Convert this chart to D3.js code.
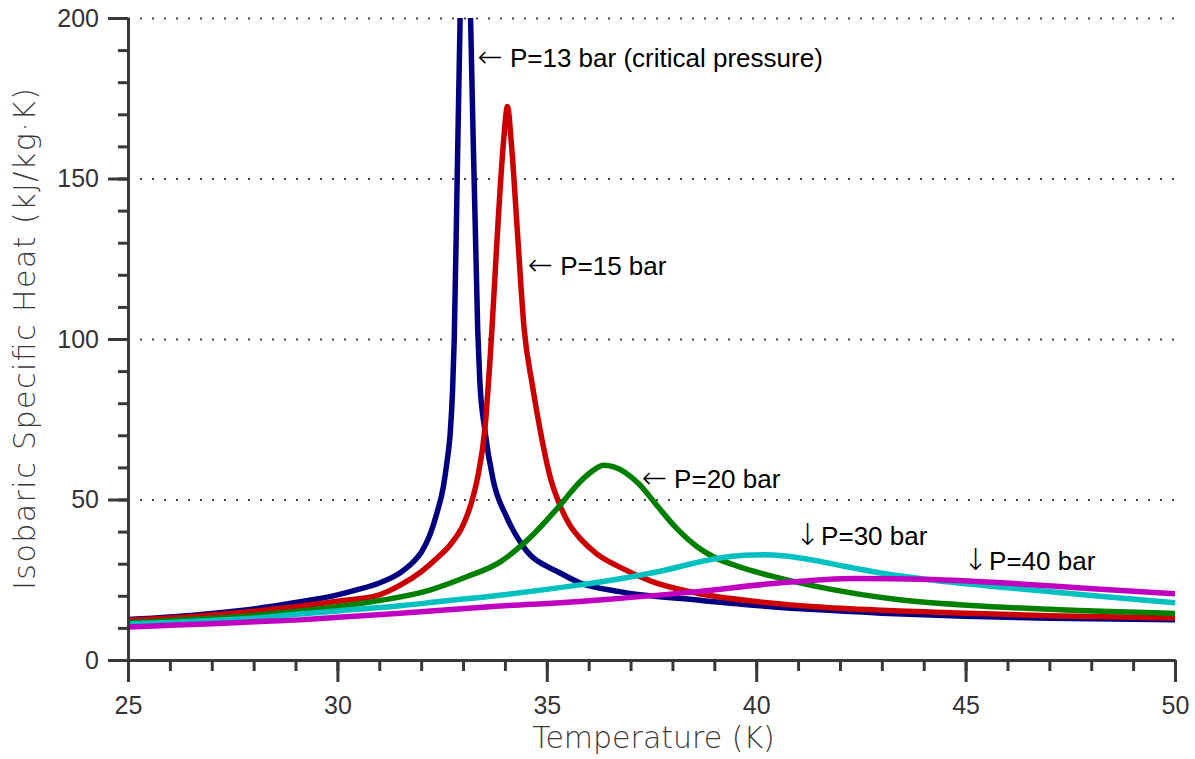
<!DOCTYPE html>
<html>
<head>
<meta charset="utf-8">
<script src="https://cdn.jsdelivr.net/npm/d3@7"></script>
<style>
  body { margin: 0; background: #fff; }
</style>
</head>
<body>
<script>
// temperatures (K) and isobaric specific heat (kJ/kg·K)
var temps13 = [25, 26, 27, 28, 29, 30, 30.5, 31, 31.5, 31.8, 32, 32.21, 32.37, 32.53, 32.62, 32.69, 32.75, 32.79, 32.86, 32.93, 33.05, 33.18, 33.35, 33.4, 33.52, 33.72, 34.04, 34.44, 35.32, 35.8, 36.73, 38.59, 40, 41.4, 43, 45, 47, 50];
var cp13    = [12.6, 13.4, 14.5, 15.9, 17.9, 20.3, 22, 24, 27.2, 30.4, 33.5, 39, 45.5, 54, 62, 70, 84, 100, 150, 200, 270, 200, 103, 87, 71.7, 56, 44.6, 35.3, 27.1, 24, 21.3, 18.7, 17, 15.7, 14.6, 13.6, 13, 12.5];

var temps15 = [25, 26, 27, 28, 29, 30, 31, 31.5, 32, 32.4, 32.7, 33, 33.2, 33.35, 33.52, 33.69, 33.83, 33.97, 34.06, 34.16, 34.3, 34.46, 34.65, 34.84, 35.08, 35.32, 35.55, 35.8, 36.2, 36.73, 37.5, 38.59, 40, 41.4, 43, 45, 47, 50];
var cp15    = [12.4, 13.1, 14, 15.2, 16.6, 18.3, 20.3, 23.3, 27.5, 32, 36, 42, 49, 57, 71.7, 103, 135, 162, 172.4, 160, 133, 103, 86, 71.7, 57, 48, 42, 37.8, 33, 29, 24.5, 20.8, 18.2, 16.6, 15.5, 14.6, 13.8, 13.1];

var temps20 = [25, 26, 27, 28, 29, 30, 31, 32.21, 33.1, 33.88, 34.36, 34.67, 35, 35.32, 35.48, 35.8, 36.1, 36.35, 36.6, 37.19, 37.65, 38.1, 38.59, 39, 39.53, 40.47, 41.4, 43.27, 45.13, 47, 50];
var cp20    = [11.6, 12.3, 13, 13.9, 15.1, 16.6, 18.5, 21.8, 26, 30.5, 35.3, 39, 43.6, 48.3, 50.8, 55.6, 59, 60.7, 60.2, 55, 47.8, 41, 35.3, 32, 29.3, 25.8, 23, 19, 17, 15.8, 14.5];

var temps30 = [25, 26, 27, 28, 29.1, 30, 31.5, 32.5, 33.88, 35, 35.79, 36.27, 37.65, 39.06, 39.7, 40.2, 40.7, 41.4, 42.1, 42.8, 44.2, 46.07, 47.94, 50];
var cp30    = [11.2, 11.7, 12.3, 13, 14.3, 15.3, 16.9, 18.3, 20.2, 22, 23.4, 24.3, 27.5, 31.6, 32.6, 32.8, 32.4, 31, 29.2, 27.5, 24.9, 22.4, 20.2, 17.8];

var temps40 = [25, 26, 27, 28, 29.1, 30, 31.5, 33.88, 35.79, 36.27, 38.59, 40.47, 42.34, 44.2, 46.07, 47.94, 50];
var cp40    = [10.3, 10.8, 11.3, 11.9, 12.5, 13.3, 14.6, 16.8, 18.2, 18.7, 21.3, 23.9, 25.4, 25.1, 23.9, 22.3, 20.6];

var xTicks = [25, 30, 35, 40, 45, 50];
var yTicks = [0, 50, 100, 150, 200];
var gridValues = [50, 100, 150, 200];

// curve labels: arrow, text, and the data point where the text starts
var labelArrow = ["\u2190", "\u2190", "\u2190", "\u2193", "\u2193"];
var labelText  = ["P=13 bar (critical pressure)", "P=15 bar", "P=20 bar", "P=30 bar", "P=40 bar"];
var labelT     = [34.12, 35.32, 38.04, 41.55, 45.56];
var labelCp    = [184.7, 119.9, 53.6, 35.8, 28];

var w = 1195;
var h = 759;
var plotL = 128, plotR = 1175, plotT = 18, plotB = 660;
var axisColor = "#383838";

var svg = d3.select("body")
            .append("svg")
            .attr("width", w)
            .attr("height", h);

var x = d3.scaleLinear().domain([25, 50]).range([plotL, plotR]);
var y = d3.scaleLinear().domain([0, 200]).range([plotB, plotT]);

// dotted grid
var grid = svg.append("g")
   .attr("transform", "translate(" + plotL + ",0)")
   .call(d3.axisLeft(y).tickValues(gridValues).tickSize(-(plotR - plotL)).tickFormat(""));
grid.select(".domain").remove();
grid.selectAll("line")
   .attr("stroke", "#444")
   .attr("stroke-width", 2)
   .attr("stroke-dasharray", "2,10");

// curves, clipped to the plot box
svg.append("clipPath")
   .attr("id", "plot")
   .append("rect")
   .attr("x", plotL)
   .attr("y", plotT)
   .attr("width", plotR - plotL)
   .attr("height", plotB - plotT);

var series = [
  { t: temps13, c: cp13, color: "#000080" },
  { t: temps15, c: cp15, color: "#cc0000" },
  { t: temps20, c: cp20, color: "#008000" },
  { t: temps30, c: cp30, color: "#00c0c0" },
  { t: temps40, c: cp40, color: "#c000c0" }
];

var line = d3.line()
   .x(function(d){ return x(d[0]); })
   .y(function(d){ return y(d[1]); })
   .curve(d3.curveMonotoneX);

svg.append("g")
   .attr("clip-path", "url(#plot)")
   .selectAll("path")
   .data(series)
   .enter()
   .append("path")
   .attr("d", function(d){ return line(d3.zip(d.t, d.c)); })
   .attr("fill", "none")
   .attr("stroke", function(d){ return d.color; })
   .attr("stroke-width", 5.5)
   .attr("stroke-linejoin", "round");

// axes: minor ticks first, then major ticks with labels
function styleAxis(g){
   g.selectAll("line, path").attr("stroke", axisColor).attr("stroke-width", 3);
   g.selectAll("text")
    .attr("fill", "#333")
    .attr("font-family", "'Liberation Sans', Arial, sans-serif")
    .attr("font-size", "25px");
}

svg.append("g")
   .attr("transform", "translate(0," + plotB + ")")
   .call(d3.axisBottom(x).tickValues(d3.range(25, 50.1, 1)).tickSize(11).tickSizeOuter(0).tickFormat(""))
   .call(styleAxis);
svg.append("g")
   .attr("transform", "translate(0," + plotB + ")")
   .call(d3.axisBottom(x).tickValues(xTicks).tickSize(22).tickSizeOuter(0).tickPadding(14).tickFormat(d3.format("d")))
   .call(styleAxis);

svg.append("g")
   .attr("transform", "translate(" + plotL + ",0)")
   .call(d3.axisLeft(y).tickValues(d3.range(0, 200.1, 10)).tickSize(10).tickSizeOuter(0).tickFormat(""))
   .call(styleAxis);
svg.append("g")
   .attr("transform", "translate(" + plotL + ",0)")
   .call(d3.axisLeft(y).tickValues(yTicks).tickSize(20).tickSizeOuter(0).tickPadding(9).tickFormat(d3.format("d")))
   .call(styleAxis);

// axis titles
svg.append("text")
   .attr("x", (plotL + plotR) / 2 + 2)
   .attr("y", 748)
   .attr("text-anchor", "middle")
   .attr("font-family", "'DejaVu Sans', sans-serif")
   .attr("font-weight", 200)
   .attr("font-size", "30px")
   .attr("fill", "#3a3a3a")
   .text("Temperature (K)");

svg.append("text")
   .attr("transform", "translate(35," + ((plotT + plotB) / 2) + ") rotate(-90)")
   .attr("text-anchor", "middle")
   .attr("font-family", "'DejaVu Sans', sans-serif")
   .attr("font-weight", 200)
   .attr("font-size", "30px")
   .attr("textLength", 502)
   .attr("lengthAdjust", "spacing")
   .attr("fill", "#3a3a3a")
   .text("Isobaric Specific Heat (kJ/kg\u00b7K)");

// curve labels
var labels = svg.selectAll("g.label")
   .data(labelText)
   .enter()
   .append("g")
   .attr("class", "label")
   .attr("transform", function(d, i){ return "translate(" + x(labelT[i]) + "," + y(labelCp[i]) + ")"; });

labels.append("text")
   .attr("x", function(d, i){ return labelArrow[i] === "\u2193" ? -1 : -7; })
   .attr("text-anchor", "end")
   .attr("font-family", "'DejaVu Sans', sans-serif")
   .attr("font-weight", 200)
   .attr("font-size", "30px")
   .attr("fill", "#000")
   .text(function(d, i){ return labelArrow[i]; });

labels.append("text")
   .attr("font-family", "'Liberation Sans', Arial, sans-serif")
   .attr("font-size", "26px")
   .attr("fill", "#000")
   .text(function(d){ return d; });
</script>
</body>
</html>
